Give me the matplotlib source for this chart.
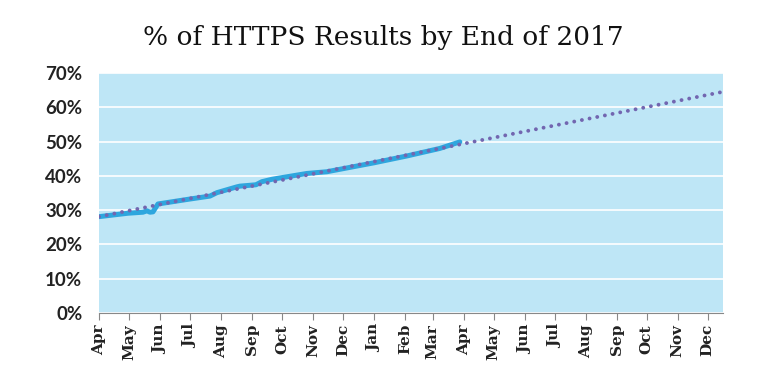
import matplotlib
matplotlib.use("Agg")
from matplotlib import pyplot as plt
import matplotlib.dates as mdates
import numpy as np
import pandas as pd

dates = ["2016-04-01", "2016-04-30", "2016-05-15", "2016-05-19", "2016-05-22",
         "2016-05-25", "2016-05-30", "2016-06-30", "2016-07-21", "2016-07-28",
         "2016-08-17", "2016-08-20", "2016-09-05", "2016-09-11", "2016-09-21",
         "2016-10-26", "2016-11-15", "2017-01-01", "2017-02-03", "2017-03-08",
         "2017-03-28"]
pct = [28.1, 29.1, 29.4, 29.8, 29.4,
       29.5, 31.8, 33.2, 34.1, 35.1,
       36.8, 37.0, 37.4, 38.3, 39.0,
       40.7, 41.2, 43.8, 45.8, 48.0,
       49.9]

# linear trend to end of 2017
trend_dates = ["2016-04-01", "2017-12-16"]
trend_pct = [28.1, 64.5]

yticks = [0, 10, 20, 30, 40, 50, 60, 70]

x = pd.to_datetime(dates)
xt = pd.to_datetime(trend_dates)

fig = plt.figure(figsize=(7.67, 3.78), dpi=100)
ax = fig.add_axes([99/767, 1-313/378, (722.7-99)/767, (313-73)/378])
ax.set_facecolor('#bee6f6')

ax.plot(x, pct, color='#2ea6de', lw=3.6, solid_capstyle='round', zorder=3)
ax.plot(xt, trend_pct, color='#7266b0', lw=2.8, linestyle=(0, (0.01, 2.0)),
        dash_capstyle='round', zorder=4)

ax.set_ylim(0, 70)
ax.set_yticks(yticks)
ax.set_yticklabels([f"{v}%" for v in yticks], fontfamily='Lato',
                   fontsize=13.5, fontweight='bold', color='#222222')
ax.grid(axis='y', color='white', lw=1.2)
ax.set_axisbelow(True)

ax.set_xlim(xt[0], xt[1])
ax.xaxis.set_major_locator(mdates.MonthLocator())
ax.xaxis.set_major_formatter(mdates.DateFormatter('%b'))
for lab in ax.get_xticklabels():
    lab.set_rotation(90)
    lab.set_fontfamily('DejaVu Serif')
    lab.set_fontsize(11)
    lab.set_fontweight('bold')
    lab.set_color('#222222')

for s in ['top', 'right', 'left']:
    ax.spines[s].set_visible(False)
ax.spines['bottom'].set_color('#888888')
ax.tick_params(axis='x', direction='out', length=5, color='#888888', pad=3)
ax.tick_params(axis='y', length=0, pad=12)

fig.text(0.5, 1-37/378, "% of HTTPS Results by End of 2017", ha='center',
         va='center', fontfamily='DejaVu Serif', fontsize=19, color='#111111')

fig.savefig('out.png', dpi=100)
